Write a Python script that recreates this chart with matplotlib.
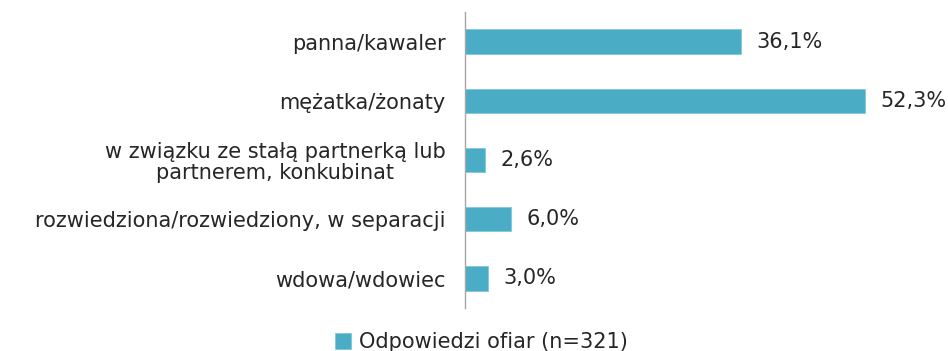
import matplotlib
matplotlib.use("Agg")
import matplotlib.pyplot as plt

categories = [
    "panna/kawaler",
    "mężatka/żonaty",
    "w związku ze stałą partnerką lub\npartnerem, konkubinat",
    "rozwiedziona/rozwiedziony, w separacji",
    "wdowa/wdowiec",
]
values = [36.1, 52.3, 2.6, 6.0, 3.0]
value_labels = ["36,1%", "52,3%", "2,6%", "6,0%", "3,0%"]
series_name = "Odpowiedzi ofiar (n=321)"

plt.rcParams["font.family"] = ["DejaVu Sans"]
color = "#4BACC6"
text_color = "#262626"
fs = 15

fig = plt.figure(figsize=(9.48, 3.51), dpi=100)
ax = fig.add_axes([465 / 948, 1 - 308 / 351, 459 / 948, 296 / 351])

y = list(range(len(categories)))
bars = ax.barh(y, values, height=0.41, color=color, edgecolor="#7fc8da",
               linewidth=0.6, label=series_name)
ax.set_ylim(len(categories) - 0.5, -0.5)
ax.set_xlim(0, 60)

for yi, v, lab in zip(y, values, value_labels):
    ax.annotate(lab, (v, yi), xytext=(11, 0), textcoords="offset points",
                va="center", ha="left", fontsize=fs, color=text_color)

ax.set_yticks(y)
ax.set_yticklabels(categories, fontsize=fs, color=text_color,
                   multialignment="center", linespacing=1.08)
ax.tick_params(axis="y", length=0, pad=14)
ax.set_xticks([])
for s in ["top", "right", "bottom"]:
    ax.spines[s].set_visible(False)
ax.spines["left"].set_color("#a6a6a6")
ax.spines["left"].set_linewidth(1.0)

fig.legend(handles=[bars], labels=[series_name], loc="center",
           bbox_to_anchor=(481 / 948, 1 - 342 / 351), frameon=False,
           fontsize=fs, handlelength=0.8, handleheight=0.8, handletextpad=0.35,
           labelcolor=text_color, borderpad=0, borderaxespad=0)

fig.savefig("out.png", dpi=100)
